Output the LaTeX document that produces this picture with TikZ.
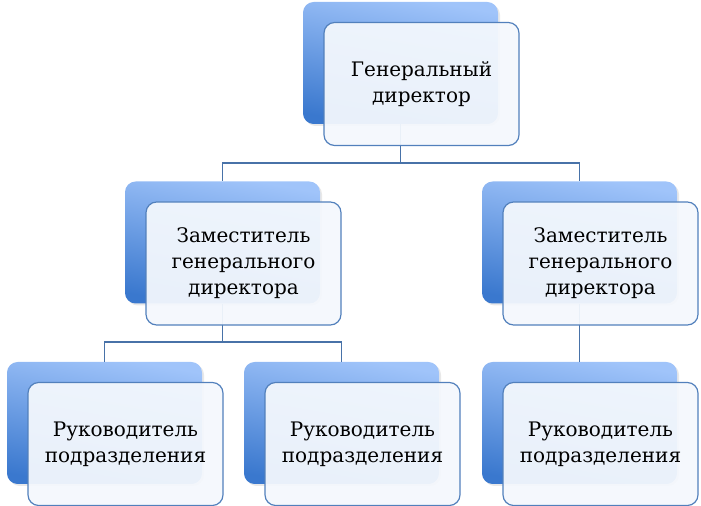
\documentclass[tikz,border=0pt]{standalone}
\usepackage{fontspec}
\setmainfont{DejaVu Serif}
\definecolor{tilelight}{RGB}{160, 196, 250}
\definecolor{tiledark}{RGB}{58, 120, 206}
\definecolor{cardfill}{RGB}{244, 248, 253}
\definecolor{cardline}{RGB}{82, 128, 188}
\definecolor{linkblue}{RGB}{72, 114, 168}
\usetikzlibrary{shadows}

\begin{document}
\begin{tikzpicture}[x=0.75pt, y=-0.75pt,
    tile/.style={rounded corners=8pt, minimum width=146.25pt, minimum height=91.5pt,
      top color=tilelight, bottom color=tiledark, shading angle=-10,
      drop shadow={opacity=0.18, shadow xshift=1.5pt, shadow yshift=-1.5pt}},
    card/.style={rounded corners=8pt, minimum width=146.25pt, minimum height=92.25pt,
      draw=cardline, line width=0.9pt, fill=cardfill, fill opacity=0.94, text opacity=1,
      align=center, font=\fontsize{15}{19.5}\selectfont},
    link/.style={draw=linkblue, line width=0.9pt}]
  \useasboundingbox (0,0) rectangle (701,506);

  % Back tiles (blue gradient)
  \foreach \n/\x/\y in {gd/400.5/63, z1/222.5/242.5, z2/579.5/242.5,
                        r1/104.5/423, r2/341.5/423, r3/579.5/423} {
    \node[tile] (\n-b) at (\x,\y) {};
  }

  % Connectors (behind the cards)
  \coordinate (bus1) at (0,163);
  \coordinate (bus2) at (0,342);
  \draw[link] (gd-b.south) -- (gd-b.south |- bus1) -| (z1-b.north);
  \draw[link] (gd-b.south |- bus1) -| (z2-b.north);
  \draw[link] (z1-b.south) -- (z1-b.south |- bus2) -| (r1-b.north);
  \draw[link] (z1-b.south |- bus2) -| (r2-b.north);
  \draw[link] (z2-b.south) -- (r3-b.north);

  % Front cards with text
  \node[card] (gd) at ([shift={(21,21)}]gd-b.center) {Генеральный\\директор};
  \foreach \n in {z1, z2} {
    \node[card] (\n) at ([shift={(21,21)}]\n-b.center) {Заместитель\\генерального\\директора};
  }
  \foreach \n in {r1, r2, r3} {
    \node[card] (\n) at ([shift={(21,21)}]\n-b.center) {Руководитель\\подразделения};
  }
\end{tikzpicture}
\end{document}
